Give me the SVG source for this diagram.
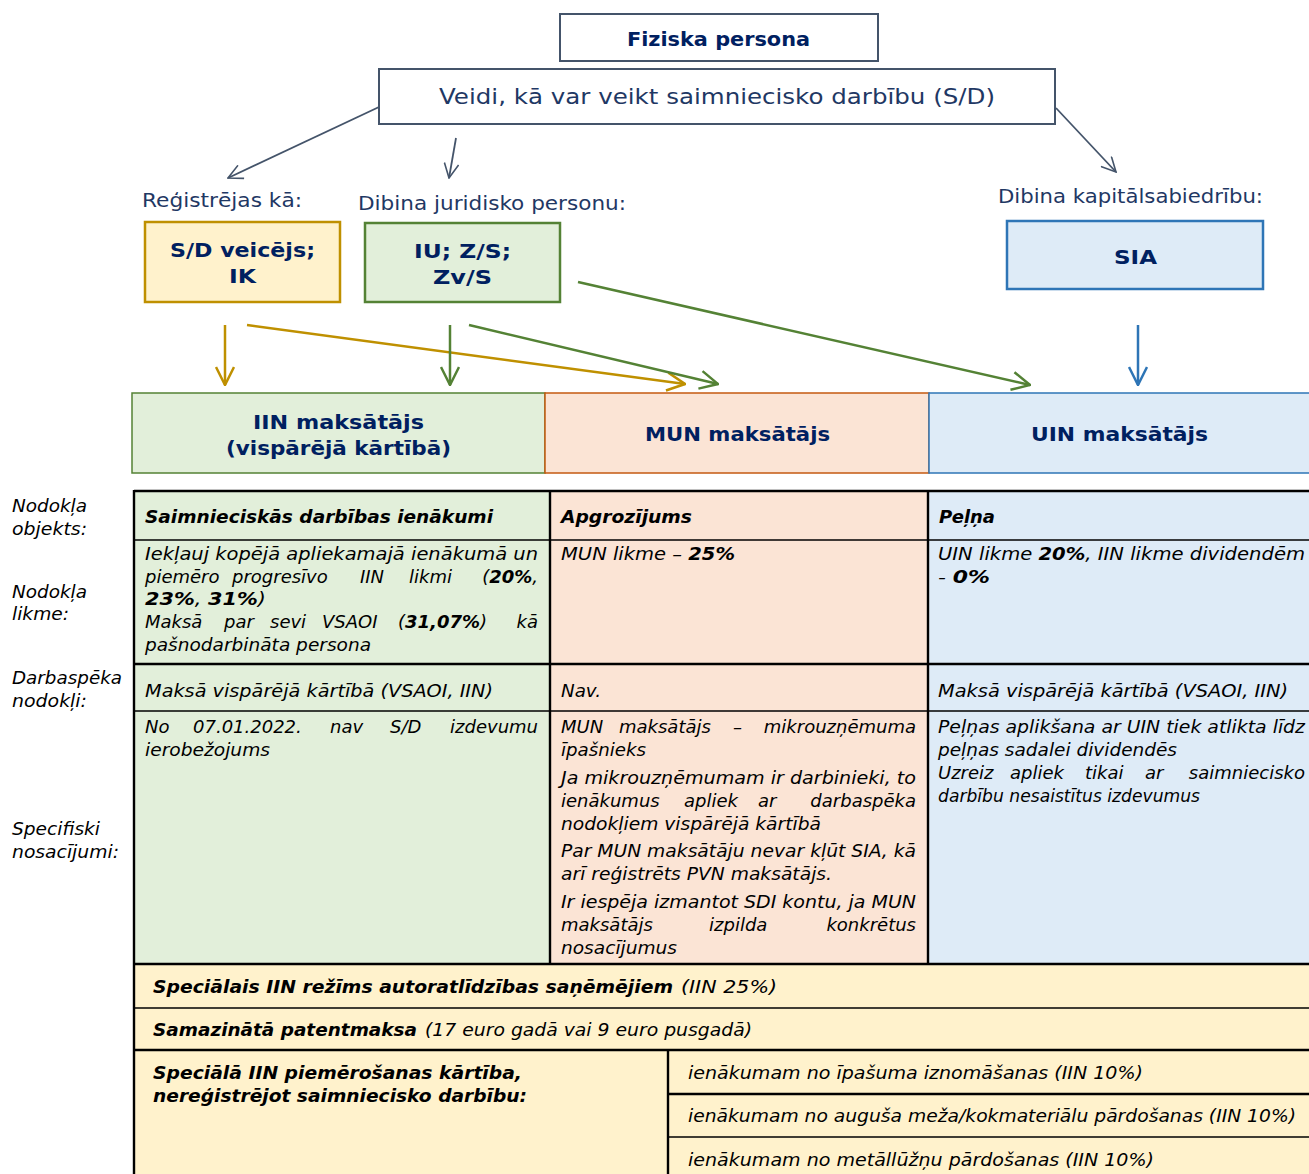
<svg xmlns="http://www.w3.org/2000/svg" width="1309" height="1174" viewBox="0 0 1309 1174">
<style>
text{font-family:"DejaVu Sans","Verdana","Liberation Sans",sans-serif}
.hd{fill:#002060;font-weight:bold;font-size:19px}
.lb{fill:#1f3864;font-size:19px}
.t{font-size:18px;font-style:italic;fill:#000}
.b{font-weight:bold}
.thin{stroke:#000;stroke-width:1.5}
.thick{stroke:#000;stroke-width:2.4}
</style>
<defs>
<marker id="mGray" markerUnits="userSpaceOnUse" viewBox="0 0 20 20" markerWidth="16" markerHeight="16" refX="19" refY="10" orient="auto"><path d="M1,1 L19,10 L1,19" fill="none" stroke="#44546a" stroke-width="2"/></marker>
<marker id="mGold" markerUnits="userSpaceOnUse" viewBox="0 0 20 20" markerWidth="20" markerHeight="20" refX="19" refY="10" orient="auto"><path d="M1,1 L19,10 L1,19" fill="none" stroke="#bf9000" stroke-width="2.5"/></marker>
<marker id="mGreen" markerUnits="userSpaceOnUse" viewBox="0 0 20 20" markerWidth="20" markerHeight="20" refX="19" refY="10" orient="auto"><path d="M1,1 L19,10 L1,19" fill="none" stroke="#548235" stroke-width="2.5"/></marker>
<marker id="mBlue" markerUnits="userSpaceOnUse" viewBox="0 0 20 20" markerWidth="20" markerHeight="20" refX="19" refY="10" orient="auto"><path d="M1,1 L19,10 L1,19" fill="none" stroke="#2e75b6" stroke-width="2.5"/></marker>
</defs>

<g id="fiziska">
<rect x="560" y="14" width="318" height="47" fill="#fff" stroke="#44546a" stroke-width="2"/>
<text class="hd" x="627" y="46" textLength="183" lengthAdjust="spacingAndGlyphs">Fiziska persona</text>
</g>
<g id="veidi">
<rect x="379" y="69" width="676" height="55" fill="#fff" stroke="#44546a" stroke-width="2"/>
<text class="lb" style="font-size:22px" x="439" y="104" textLength="556" lengthAdjust="spacingAndGlyphs">Veidi, kā var veikt saimniecisko darbību (S/D)</text>
</g>
<g id="labels">
<text class="lb" x="142" y="207" textLength="160" lengthAdjust="spacingAndGlyphs">Reģistrējas kā:</text>
<text class="lb" x="358" y="210" textLength="268" lengthAdjust="spacingAndGlyphs">Dibina juridisko personu:</text>
<text class="lb" x="998" y="203" textLength="265" lengthAdjust="spacingAndGlyphs">Dibina kapitālsabiedrību:</text>
</g>
<g id="sd">
<rect x="145" y="222" width="195" height="80" fill="#fff2cc" stroke="#bf9000" stroke-width="2.5"/>
<text class="hd" x="170" y="257" textLength="145" lengthAdjust="spacingAndGlyphs">S/D veicējs;</text>
<text class="hd" x="229" y="283" textLength="27" lengthAdjust="spacingAndGlyphs">IK</text>
</g>
<g id="iu">
<rect x="365" y="223" width="195" height="79" fill="#e2efda" stroke="#548235" stroke-width="2.5"/>
<text class="hd" x="414" y="258" textLength="97" lengthAdjust="spacingAndGlyphs">IU; Z/S;</text>
<text class="hd" x="433" y="284" textLength="59" lengthAdjust="spacingAndGlyphs">Zv/S</text>
</g>
<g id="sia">
<rect x="1007" y="221" width="256" height="68" fill="#deebf7" stroke="#2e75b6" stroke-width="2.5"/>
<text class="hd" x="1114" y="264" textLength="43" lengthAdjust="spacingAndGlyphs">SIA</text>
</g>

<g id="connectors" fill="none">
<line x1="379" y1="107" x2="228" y2="178" stroke="#44546a" stroke-width="1.8" marker-end="url(#mGray)"/>
<line x1="456" y1="138" x2="449" y2="178" stroke="#44546a" stroke-width="1.8" marker-end="url(#mGray)"/>
<line x1="1056" y1="108" x2="1116" y2="172" stroke="#44546a" stroke-width="1.8" marker-end="url(#mGray)"/>
<line x1="225" y1="325" x2="225" y2="385" stroke="#bf9000" stroke-width="2.5" marker-end="url(#mGold)"/>
<line x1="247" y1="325" x2="685" y2="384" stroke="#bf9000" stroke-width="2.5" marker-end="url(#mGold)"/>
<line x1="450" y1="325" x2="450" y2="385" stroke="#548235" stroke-width="2.5" marker-end="url(#mGreen)"/>
<line x1="469" y1="325" x2="718" y2="384" stroke="#548235" stroke-width="2.5" marker-end="url(#mGreen)"/>
<line x1="578" y1="282" x2="1030" y2="385" stroke="#548235" stroke-width="2.5" marker-end="url(#mGreen)"/>
<line x1="1138" y1="325" x2="1138" y2="385" stroke="#2e75b6" stroke-width="2.5" marker-end="url(#mBlue)"/>
</g>

<g id="iin-header">
<rect x="132" y="393" width="413" height="80" fill="#e2efda" stroke="#548235" stroke-width="1.5"/>
<text class="hd" x="253" y="429" textLength="171" lengthAdjust="spacingAndGlyphs">IIN maksātājs</text>
<text class="hd" x="226" y="455" textLength="225" lengthAdjust="spacingAndGlyphs">(vispārējā kārtībā)</text>
</g>
<g id="mun-header">
<rect x="545" y="393" width="384" height="80" fill="#fbe4d5" stroke="#c55a11" stroke-width="1.5"/>
<text class="hd" x="645" y="441" textLength="185" lengthAdjust="spacingAndGlyphs">MUN maksātājs</text>
</g>
<g id="uin-header">
<rect x="929" y="393" width="382" height="80" fill="#deebf7" stroke="#2e75b6" stroke-width="1.5"/>
<text class="hd" x="1031" y="441" textLength="177" lengthAdjust="spacingAndGlyphs">UIN maksātājs</text>
</g>

<g id="row-labels">
<text class="t" x="12" y="512" textLength="75" lengthAdjust="spacingAndGlyphs">Nodokļa</text>
<text class="t" x="12" y="535" textLength="75" lengthAdjust="spacingAndGlyphs">objekts:</text>
<text class="t" x="12" y="598" textLength="75" lengthAdjust="spacingAndGlyphs">Nodokļa</text>
<text class="t" x="12" y="620" textLength="57" lengthAdjust="spacingAndGlyphs">likme:</text>
<text class="t" x="12" y="684" textLength="110" lengthAdjust="spacingAndGlyphs">Darbaspēka</text>
<text class="t" x="12" y="707" textLength="75" lengthAdjust="spacingAndGlyphs">nodokļi:</text>
<text class="t" x="12" y="835" textLength="88" lengthAdjust="spacingAndGlyphs">Specifiski</text>
<text class="t" x="12" y="858" textLength="107" lengthAdjust="spacingAndGlyphs">nosacījumi:</text>
</g>

<g id="table">
<rect x="134" y="491" width="416" height="473" fill="#e2efda"/>
<rect x="550" y="491" width="378" height="473" fill="#fbe4d5"/>
<rect x="928" y="491" width="381" height="473" fill="#deebf7"/>
<rect x="134" y="964" width="1175" height="210" fill="#fff2cc"/>
<line class="thick" x1="134" y1="491" x2="1309" y2="491"/>
<line class="thin" x1="134" y1="540" x2="1309" y2="540"/>
<line class="thick" x1="134" y1="664" x2="1309" y2="664"/>
<line class="thin" x1="134" y1="711" x2="1309" y2="711"/>
<line class="thick" x1="134" y1="964" x2="1309" y2="964"/>
<line class="thin" x1="134" y1="1008" x2="1309" y2="1008"/>
<line class="thick" x1="134" y1="1050" x2="1309" y2="1050"/>
<line class="thick" x1="668" y1="1094" x2="1309" y2="1094"/>
<line class="thin" x1="668" y1="1137" x2="1309" y2="1137"/>
<line class="thick" x1="134" y1="490" x2="134" y2="1174"/>
<line class="thick" x1="550" y1="490" x2="550" y2="964"/>
<line class="thick" x1="928" y1="490" x2="928" y2="964"/>
<line class="thick" x1="668" y1="1050" x2="668" y2="1174"/>
</g>

<g id="col-iin">
<text class="t b" x="145" y="523" textLength="348" lengthAdjust="spacingAndGlyphs">Saimnieciskās darbības ienākumi</text>
<text class="t" x="145" y="560" textLength="393" lengthAdjust="spacingAndGlyphs">Iekļauj kopējā apliekamajā ienākumā un</text>
<text class="t" y="583"><tspan x="145">piemēro</tspan><tspan x="232">progresīvo</tspan><tspan x="360">IIN</tspan><tspan x="409">likmi</tspan></text>
<text class="t" x="538" y="583" text-anchor="end">(<tspan class="b">20%</tspan>,</text>
<text class="t" x="145" y="605" textLength="121" lengthAdjust="spacingAndGlyphs"><tspan class="b">23%</tspan>, <tspan class="b">31%</tspan>)</text>
<text class="t" y="628"><tspan x="145">Maksā</tspan><tspan x="224">par</tspan><tspan x="270">sevi</tspan><tspan x="322">VSAOI</tspan><tspan x="398">(</tspan><tspan class="b">31,07%</tspan>)</text>
<text class="t" x="538" y="628" text-anchor="end">kā</text>
<text class="t" x="145" y="651" textLength="226" lengthAdjust="spacingAndGlyphs">pašnodarbināta persona</text>
<text class="t" x="145" y="697" textLength="348" lengthAdjust="spacingAndGlyphs">Maksā vispārējā kārtībā (VSAOI, IIN)</text>
<text class="t" y="733"><tspan x="145">No</tspan><tspan x="193">07.01.2022.</tspan><tspan x="330">nav</tspan><tspan x="390">S/D</tspan></text>
<text class="t" x="538" y="733" text-anchor="end">izdevumu</text>
<text class="t" x="145" y="756" textLength="125" lengthAdjust="spacingAndGlyphs">ierobežojums</text>
</g>

<g id="col-mun">
<text class="t b" x="561" y="523" textLength="131" lengthAdjust="spacingAndGlyphs">Apgrozījums</text>
<text class="t" x="561" y="560" textLength="174" lengthAdjust="spacingAndGlyphs">MUN likme – <tspan class="b">25%</tspan></text>
<text class="t" x="561" y="697" textLength="40" lengthAdjust="spacingAndGlyphs">Nav.</text>
<text class="t" y="733"><tspan x="561">MUN</tspan><tspan x="619">maksātājs</tspan><tspan x="733">–</tspan></text>
<text class="t" x="916" y="733" text-anchor="end">mikrouzņēmuma</text>
<text class="t" x="561" y="756" textLength="85" lengthAdjust="spacingAndGlyphs">īpašnieks</text>
<text class="t" x="561" y="784" textLength="355" lengthAdjust="spacingAndGlyphs">Ja mikrouzņēmumam ir darbinieki, to</text>
<text class="t" y="807"><tspan x="561">ienākumus</tspan><tspan x="684">apliek</tspan><tspan x="758">ar</tspan></text>
<text class="t" x="916" y="807" text-anchor="end">darbaspēka</text>
<text class="t" x="561" y="830" textLength="260" lengthAdjust="spacingAndGlyphs">nodokļiem vispārējā kārtībā</text>
<text class="t" x="561" y="857" textLength="355" lengthAdjust="spacingAndGlyphs">Par MUN maksātāju nevar kļūt SIA, kā</text>
<text class="t" x="561" y="880" textLength="271" lengthAdjust="spacingAndGlyphs">arī reģistrēts PVN maksātājs.</text>
<text class="t" x="561" y="908" textLength="355" lengthAdjust="spacingAndGlyphs">Ir iespēja izmantot SDI kontu, ja MUN</text>
<text class="t" y="931"><tspan x="561">maksātājs</tspan><tspan x="709">izpilda</tspan></text>
<text class="t" x="916" y="931" text-anchor="end">konkrētus</text>
<text class="t" x="561" y="954" textLength="116" lengthAdjust="spacingAndGlyphs">nosacījumus</text>
</g>

<g id="col-uin">
<text class="t b" x="939" y="523" textLength="56" lengthAdjust="spacingAndGlyphs">Peļņa</text>
<text class="t" x="938" y="560" textLength="367" lengthAdjust="spacingAndGlyphs">UIN likme <tspan class="b">20%</tspan>, IIN likme dividendēm</text>
<text class="t" x="938" y="583" textLength="52" lengthAdjust="spacingAndGlyphs">- <tspan class="b">0%</tspan></text>
<text class="t" x="938" y="697" textLength="350" lengthAdjust="spacingAndGlyphs">Maksā vispārējā kārtībā (VSAOI, IIN)</text>
<text class="t" x="938" y="733" textLength="367" lengthAdjust="spacingAndGlyphs">Peļņas aplikšana ar UIN tiek atlikta līdz</text>
<text class="t" x="938" y="756" textLength="239" lengthAdjust="spacingAndGlyphs">peļņas sadalei dividendēs</text>
<text class="t" y="779"><tspan x="938">Uzreiz</tspan><tspan x="1010">apliek</tspan><tspan x="1085">tikai</tspan><tspan x="1145">ar</tspan></text>
<text class="t" x="1305" y="779" text-anchor="end">saimniecisko</text>
<text class="t" x="938" y="802" textLength="262" lengthAdjust="spacingAndGlyphs">darbību nesaistītus izdevumus</text>
</g>

<g id="special">
<text class="t" y="993"><tspan class="b" x="153" textLength="520" lengthAdjust="spacingAndGlyphs">Speciālais IIN režīms autoratlīdzības saņēmējiem</tspan><tspan x="681" textLength="96" lengthAdjust="spacingAndGlyphs">(IIN 25%)</tspan></text>
<text class="t" y="1036"><tspan class="b" x="153" textLength="264" lengthAdjust="spacingAndGlyphs">Samazinātā patentmaksa</tspan><tspan x="425" textLength="327" lengthAdjust="spacingAndGlyphs">(17 euro gadā vai 9 euro pusgadā)</tspan></text>
<text class="t b" x="153" y="1079" textLength="369" lengthAdjust="spacingAndGlyphs">Speciālā IIN piemērošanas kārtība,</text>
<text class="t b" x="153" y="1102" textLength="374" lengthAdjust="spacingAndGlyphs">nereģistrējot saimniecisko darbību:</text>
<text class="t" x="688" y="1079" textLength="455" lengthAdjust="spacingAndGlyphs">ienākumam no īpašuma iznomāšanas (IIN 10%)</text>
<text class="t" x="688" y="1122" textLength="608" lengthAdjust="spacingAndGlyphs">ienākumam no auguša meža/kokmateriālu pārdošanas (IIN 10%)</text>
<text class="t" x="688" y="1166" textLength="466" lengthAdjust="spacingAndGlyphs">ienākumam no metāllūžņu pārdošanas (IIN 10%)</text>
</g>
</svg>
